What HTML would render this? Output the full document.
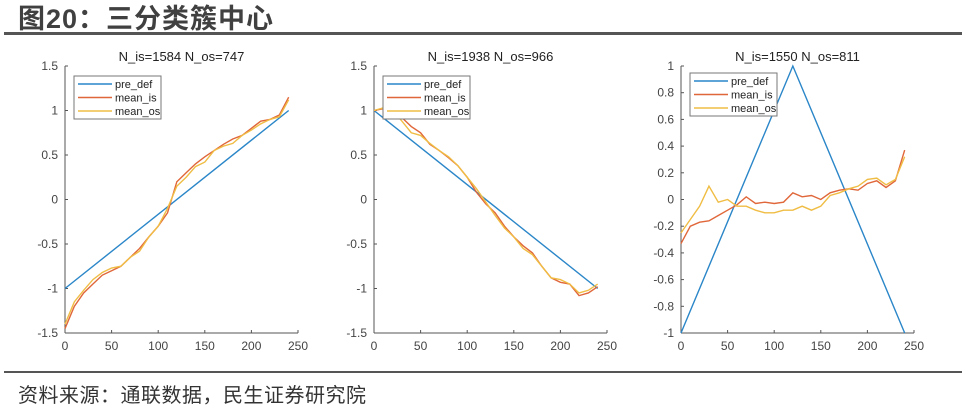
<!DOCTYPE html>
<html><head><meta charset="utf-8"><style>
body{margin:0;width:972px;height:408px;background:#fff;overflow:hidden;font-family:"Liberation Sans","Noto Sans CJK SC",sans-serif}
#hdr{position:absolute;left:18px;top:-3px;font-size:27px;font-weight:bold;color:#404040;letter-spacing:1px}
#l1{position:absolute;left:4px;top:32px;width:958px;height:3px;background:#555}
#l2{position:absolute;left:4px;top:371px;width:958px;height:2px;background:#555}
#src{position:absolute;left:18px;top:379px;font-size:20px;color:#333;letter-spacing:0.5px}
svg{position:absolute;left:0;top:0}
</style></head><body>
<div id="hdr">图20：三分类簇中心</div>
<div id="l1"></div>
<svg id="c" width="972" height="408"></svg>
<div id="l2"></div>
<div id="src">资料来源：通联数据，民生证券研究院</div>
<script>
const xs=[0,10,20,30,40,50,60,70,80,90,100,110,120,130,140,150,160,170,180,190,200,210,220,230,240];
const titles=["N_is=1584 N_os=747","N_is=1938 N_os=966","N_is=1550 N_os=811"];
const pre1=[-1,1], pre2=[1,-1], pre3=[-1,1,-1];
const preX1=[0,240], preX3=[0,120,240];
const is1=[-1.45,-1.2,-1.05,-0.95,-0.85,-0.8,-0.75,-0.65,-0.55,-0.42,-0.3,-0.15,0.2,0.3,0.4,0.48,0.55,0.62,0.68,0.72,0.8,0.88,0.9,0.95,1.15];
const os1=[-1.4,-1.15,-1.02,-0.9,-0.82,-0.77,-0.75,-0.65,-0.58,-0.42,-0.3,-0.1,0.15,0.25,0.37,0.42,0.55,0.6,0.63,0.72,0.78,0.85,0.9,0.93,1.12];
const is2=[1.0,1.02,1.0,0.92,0.82,0.75,0.62,0.55,0.47,0.38,0.25,0.08,-0.05,-0.15,-0.3,-0.42,-0.52,-0.6,-0.75,-0.88,-0.93,-0.95,-1.08,-1.05,-0.98];
const os2=[1.0,1.03,1.0,0.88,0.75,0.72,0.63,0.55,0.48,0.38,0.25,0.12,-0.03,-0.18,-0.32,-0.42,-0.55,-0.62,-0.75,-0.88,-0.9,-0.95,-1.05,-1.02,-0.95];
const is3=[-0.33,-0.2,-0.17,-0.16,-0.12,-0.08,-0.04,0.02,-0.03,-0.02,-0.03,-0.02,0.05,0.02,0.03,0.0,0.05,0.07,0.08,0.07,0.12,0.14,0.09,0.14,0.37];
const os3=[-0.25,-0.15,-0.05,0.1,-0.02,0.0,-0.05,-0.05,-0.08,-0.1,-0.1,-0.08,-0.08,-0.05,-0.08,-0.05,0.03,0.05,0.08,0.1,0.15,0.16,0.11,0.15,0.32];
const xTicks=[0,50,100,150,200,250];
const yTicks12=[-1.5,-1,-0.5,0,0.5,1,1.5];
const yTicks3=[-1,-0.8,-0.6,-0.4,-0.2,0,0.2,0.4,0.6,0.8,1];
const ns="http://www.w3.org/2000/svg",svg=document.getElementById('c');
function mk(t,a,p){const e=document.createElementNS(ns,t);for(const k in a)e.setAttribute(k,a[k]);(p||svg).appendChild(e);return e;}
const charts=[
 {x0:65,ymin:-1.5,ymax:1.5,yt:yTicks12,pre:pre1,px:preX1,is:is1,os:os1,lg:[74,76]},
 {x0:374,ymin:-1.5,ymax:1.5,yt:yTicks12,pre:pre2,px:preX1,is:is2,os:os2,lg:[383,76]},
 {x0:681,ymin:-1,ymax:1,yt:yTicks3,pre:pre3,px:preX3,is:is3,os:os3,lg:[690,73]}];
charts.forEach((c,i)=>{
 const g=mk('g',{});
 
 
 const W=233,top=66,bot=333;
 const X=v=>c.x0+v/250*W, Y=v=>bot-(v-c.ymin)/(c.ymax-c.ymin)*(bot-top);
 const t=mk('text',{x:c.x0+W/2,y:61,'text-anchor':'middle','font-size':13,fill:'#222'},g);t.textContent=titles[i];
 
 mk('line',{x1:c.x0,y1:top,x2:c.x0,y2:bot,stroke:'#555','stroke-width':1},g);
 mk('line',{x1:c.x0,y1:bot,x2:c.x0+W,y2:bot,stroke:'#555','stroke-width':1},g);
 xTicks.forEach(v=>{mk('line',{x1:X(v),y1:bot,x2:X(v),y2:bot-3,stroke:'#555'},g);
  const tx=mk('text',{x:X(v),y:bot+17,'text-anchor':'middle','font-size':12,fill:'#444'},g);tx.textContent=v;
  });
 c.yt.forEach(v=>{mk('line',{x1:c.x0,y1:Y(v),x2:c.x0+3,y2:Y(v),stroke:'#555'},g);
  const ty=mk('text',{x:c.x0-7,y:Y(v)+4,'text-anchor':'end','font-size':12,fill:'#444'},g);ty.textContent=v;
  });
 const line=(xa,ya,col,name)=>{const p=mk('polyline',{points:xa.map((x,j)=>X(x)+','+Y(ya[j])).join(' '),fill:'none',stroke:col,'stroke-width':1.4},g);
  };
 line(c.px,c.pre,'#2a86c8','pre-def-line');
 line(xs,c.is,'#e0673a','mean-is-line');
 line(xs,c.os,'#f0bd44','mean-os-line');
 const [lx,ly]=c.lg;
 const lgd=mk('g',{},g);
 mk('rect',{x:lx,y:ly,width:87,height:43,fill:'#fff',stroke:'#777','stroke-width':1},lgd);
 [['pre_def','#2a86c8'],['mean_is','#e0673a'],['mean_os','#f0bd44']].forEach((e,k)=>{
  const yy=ly+8+k*13.5;
  mk('line',{x1:lx+4,y1:yy,x2:lx+38,y2:yy,stroke:e[1],'stroke-width':1.4},lgd);
  const lt=mk('text',{x:lx+41,y:yy+4,'font-size':11,fill:'#222'},lgd);lt.textContent=e[0];
  });
});
</script>
</body></html>
